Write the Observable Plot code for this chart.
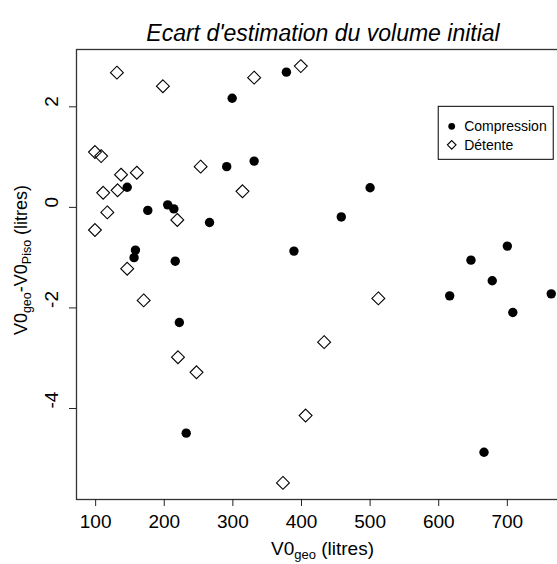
<!DOCTYPE html>
<html><head><meta charset="utf-8">
<script src="https://cdn.jsdelivr.net/npm/d3@7"></script>
<script src="https://cdn.jsdelivr.net/npm/@observablehq/plot@0.6"></script>
<style>body{margin:0;background:#fff}</style>
</head><body><div id="chart"></div>
<script>
// Compression (filled dots)
const compX = [378, 299, 291, 331, 146, 176, 205, 214, 266, 158, 156, 216, 389, 500, 458, 700, 647, 678, 708, 764, 616, 222, 232, 666];
const compY = [2.69, 2.17, 0.81, 0.92, 0.40, -0.06, 0.05, -0.03, -0.30, -0.85, -1.00, -1.07, -0.87, 0.39, -0.19, -0.77, -1.05, -1.46, -2.09, -1.72, -1.76, -2.29, -4.49, -4.87];
// Détente (open diamonds)
const detX = [131, 198, 331, 399, 99, 108, 253, 137, 160, 111, 132, 314, 117, 219, 99, 146, 170, 512, 433, 406, 373, 220, 247];
const detY = [2.68, 2.41, 2.58, 2.81, 1.10, 1.02, 0.81, 0.65, 0.69, 0.29, 0.34, 0.32, -0.10, -0.25, -0.45, -1.22, -1.85, -1.81, -2.68, -4.14, -5.48, -2.98, -3.28];

const xTicks = [100, 200, 300, 400, 500, 600, 700];
const yTicks = [-4, -2, 0, 2];
const seriesNames = ["Compression", "Détente"];
const legendAt = [600, 2];
const titleText = "Ecart d'estimation du volume initial";

const comp = compX.map((x, i) => ({x, y: compY[i]}));
const det = detX.map((x, i) => ({x, y: detY[i]}));

const FONT = "'Liberation Sans', Arial, Helvetica, sans-serif";
const W = 557, H = 564, ML = 76, MR = -12, MT = 49, MB = 65;

const plot = Plot.plot({
  width: W, height: H,
  marginTop: MT, marginBottom: MB, marginLeft: ML, marginRight: MR,
  style: {fontFamily: FONT, background: "white", color: "black"},
  x: {domain: [72.1, 790.6]},
  y: {domain: [-5.81, 3.14]},
  marks: [
    Plot.frame({stroke: "#333", strokeWidth: 1.3}),
    Plot.axisX(xTicks, {tickSize: 7, tickFormat: () => "", label: null, stroke: "#222"}),
    Plot.axisY(yTicks, {tickSize: 7, tickFormat: () => "", label: null, stroke: "#222"}),
    Plot.text(xTicks, {x: d => d, text: d => String(d), frameAnchor: "bottom", dy: 22, lineAnchor: "middle", fontSize: 19, fill: "black"}),
    Plot.text(yTicks, {y: d => d, text: d => String(d), frameAnchor: "left", dx: -25, rotate: -90, lineAnchor: "middle", fontSize: 19, fill: "black"}),
    Plot.text([titleText], {text: d => d, frameAnchor: "top", dy: -16, lineAnchor: "middle", fontSize: 23, fontStyle: "italic", fill: "black"}),
    Plot.dot(comp, {x: "x", y: "y", r: 4.7, fill: "black"}),
    Plot.dot(det, {x: "x", y: "y", symbol: "diamond2", r: 5.8, stroke: "black", strokeWidth: 1.1, fill: "none"})
  ]
});

const svg = d3.select(plot);
const xs = plot.scale("x"), ys = plot.scale("y");
const cx = (ML + (W - MR)) / 2, cy = (MT + (H - MB)) / 2;

// x axis title with subscript
const xt = svg.append("text").attr("x", cx).attr("y", 555).attr("text-anchor", "middle")
  .attr("font-size", 19).attr("font-family", FONT).attr("fill", "black");
xt.append("tspan").text("V0");
xt.append("tspan").attr("font-size", 13).attr("dy", 4).text("geo");
xt.append("tspan").attr("dy", -4).text(" (litres)");

// y axis title with subscripts
const yt = svg.append("text").attr("transform", `translate(27,${cy - 14}) rotate(-90)`).attr("text-anchor", "middle")
  .attr("font-size", 18).attr("font-family", FONT).attr("fill", "black");
yt.append("tspan").text("V0");
yt.append("tspan").attr("font-size", 12.5).attr("dy", 4).text("geo");
yt.append("tspan").attr("dy", -4).text("-V0");
yt.append("tspan").attr("font-size", 12.5).attr("dy", 4).text("Piso");
yt.append("tspan").attr("dy", -4).text(" (litres)");

// legend placed at data coordinates (600, 2)
const lx = xs.apply(legendAt[0]), ly = ys.apply(legendAt[1]);
const lg = svg.append("g").attr("text-anchor", "start");
lg.append("rect").attr("x", lx).attr("y", ly).attr("width", 115).attr("height", 53)
  .attr("fill", "white").attr("stroke", "black").attr("stroke-width", 1);
const rowY = [ly + 20, ly + 38.5];
lg.append("circle").attr("cx", lx + 13.5).attr("cy", rowY[0]).attr("r", 3.4).attr("fill", "black");
const d = 4.3;
lg.append("path").attr("d", `M${lx + 13.5},${rowY[1] - d}L${lx + 13.5 + d},${rowY[1]}L${lx + 13.5},${rowY[1] + d}L${lx + 13.5 - d},${rowY[1]}Z`)
  .attr("fill", "none").attr("stroke", "black").attr("stroke-width", 1.1);
seriesNames.forEach((s, i) => {
  lg.append("text").attr("x", lx + 26).attr("y", rowY[i]).attr("dy", "0.35em").attr("text-anchor", "start")
    .attr("font-size", 14).attr("font-family", FONT).attr("fill", "black").text(s);
});

document.getElementById("chart").appendChild(plot);
</script>
</body></html>
